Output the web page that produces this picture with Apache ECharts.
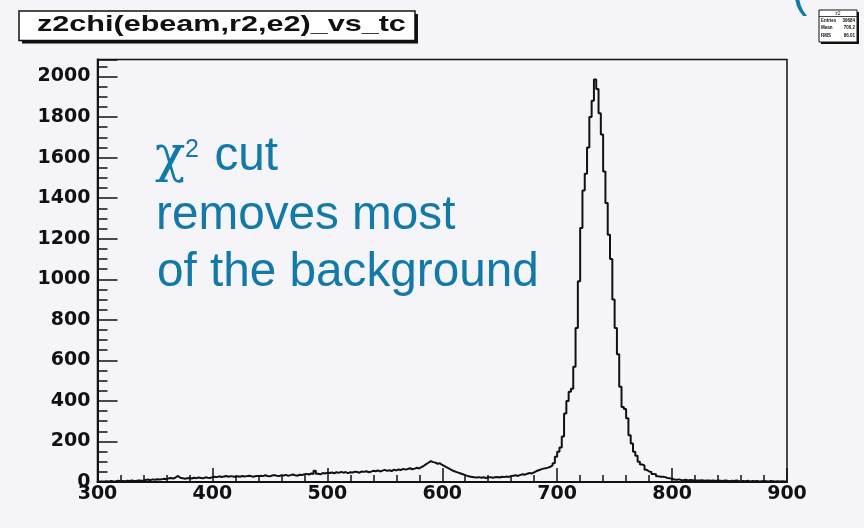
<!DOCTYPE html>
<html>
<head>
<meta charset="utf-8">
<script src="https://cdn.jsdelivr.net/npm/echarts@6/dist/echarts.min.js"></script>
<style>
  html, body { margin: 0; padding: 0; background: #f5f4f8; }
  #chart { width: 864px; height: 528px; }
</style>
</head>
<body>
<div id="chart"></div>
<script>
// Histogram binning: 300 bins of width 2 from 300 to 900
const binLow = 300;
const binWidth = 2;
const binHigh = 900;

// Bin contents, 10 bins (20 units) per row
const counts = [
  2, 3, 2, 4, 3, 5, 3, 4, 6, 4,                 // 300-320
  5, 4, 6, 5, 7, 5, 6, 8, 6, 7,                 // 320-340
  10, 12, 9, 13, 11, 14, 12, 13, 16, 14,        // 340-360
  18, 20, 17, 22, 30, 21, 19, 16, 18, 20,       // 360-380
  17, 21, 19, 22, 20, 18, 23, 21, 20, 24,       // 380-400
  26, 24, 28, 25, 27, 30, 26, 29, 27, 25,       // 400-420
  28, 26, 30, 27, 29, 31, 28, 26, 30, 29,       // 420-440
  31, 29, 33, 30, 28, 32, 34, 31, 29, 33,       // 440-460
  32, 35, 30, 34, 37, 33, 31, 36, 34, 38,       // 460-480
  40, 37, 42, 39, 55, 41, 38, 44, 42, 46,       // 480-500
  44, 47, 43, 48, 45, 50, 46, 49, 44, 48,       // 500-520
  47, 51, 49, 46, 52, 50, 53, 48, 51, 55,       // 520-540
  53, 57, 52, 56, 60, 55, 58, 54, 61, 57,       // 540-560
  62, 59, 65, 61, 64, 68, 63, 66, 70, 67,       // 560-580
  74, 80, 88, 95, 103, 98, 96, 90, 92, 84,      // 580-600
  78, 72, 66, 60, 54, 50, 46, 42, 38, 34,       // 600-620
  30, 27, 25, 23, 22, 24, 21, 23, 20, 22,       // 620-640
  24, 21, 23, 25, 22, 26, 24, 27, 25, 29,       // 640-660
  31, 33, 30, 35, 38, 36, 41, 44, 42, 48,       // 660-680
  54, 58, 62, 66, 68, 71, 75, 82, 92, 125,      // 680-700
  149, 170, 225, 338, 400, 445, 460, 568, 760, 990,          // 700-720
  1253, 1438, 1520, 1650, 1800, 1880, 1985, 1939, 1819, 1714, // 720-740
  1532, 1376, 1220, 1100, 900, 760, 630, 470, 370, 360,      // 740-760
  314, 231, 190, 149, 130, 100, 86, 82, 60, 52, // 760-780
  50, 40, 38, 28, 26, 26, 24, 20, 18, 16,       // 780-800
  12, 11, 13, 10, 9, 11, 8, 10, 9, 7,           // 800-820
  8, 7, 9, 6, 8, 7, 6, 8, 5, 7,                 // 820-840
  6, 5, 7, 6, 4, 6, 5, 7, 5, 4,                 // 840-860
  5, 4, 6, 3, 5, 4, 5, 3, 4, 5,                 // 860-880
  4, 3, 5, 4, 3, 4, 2, 4, 3, 3                  // 880-900
];

// Axis tick values
const xTickValues = [300, 400, 500, 600, 700, 800, 900];
const yTickValues = [0, 200, 400, 600, 800, 1000, 1200, 1400, 1600, 1800, 2000];

const histTitle = 'z2chi(ebeam,r2,e2)_vs_tc';
const noteLines = ['removes most', 'of the background'];

// Outline of the histogram: each bin's left edge carries its content,
// plus a closing point at the upper edge.
const outline = counts.map((c, i) => [binLow + i * binWidth, c]);
outline.push([binHigh, counts[counts.length - 1]]);

// Statistics for the stats box
let entries = 0, sx = 0, sxx = 0;
counts.forEach((c, i) => {
  const xc = binLow + (i + 0.5) * binWidth;
  entries += c; sx += c * xc; sxx += c * xc * xc;
});
const mean = sx / entries;
const rms = Math.sqrt(sxx / entries - mean * mean);
const peak = Math.max(...counts);
const yMax = Math.round(peak * 1.05);

const ink = '#111111';
const blue = '#1279a8';
const labelFont = { color: ink, fontFamily: 'DejaVu Sans', fontWeight: 'bold', fontSize: 19 };
const noteFont = '47.7px "Liberation Sans"';

const chart = echarts.init(document.getElementById('chart'), null, { renderer: 'canvas' });

chart.setOption({
  backgroundColor: '#f5f4f8',
  animation: false,
  grid: {
    left: 97.5, right: 77, top: 59.5, bottom: 46,
    show: true, borderColor: ink, borderWidth: 1.5, backgroundColor: 'transparent'
  },
  xAxis: {
    type: 'value',
    min: xTickValues[0],
    max: xTickValues[xTickValues.length - 1],
    interval: xTickValues[1] - xTickValues[0],
    axisLine: { show: true, onZero: false, lineStyle: { color: ink, width: 2 } },
    axisTick: { show: true, inside: true, length: 14, lineStyle: { color: ink, width: 1.5 } },
    minorTick: { show: true, splitNumber: 5, length: 7, lineStyle: { color: ink, width: 1.5 } },
    splitLine: { show: false },
    axisLabel: Object.assign({ margin: 3 }, labelFont)
  },
  yAxis: {
    type: 'value',
    min: yTickValues[0],
    max: yMax,
    interval: yTickValues[1] - yTickValues[0],
    axisLine: { show: true, lineStyle: { color: ink, width: 2 } },
    axisTick: { show: true, inside: true, length: 20, lineStyle: { color: ink, width: 1.5 } },
    minorTick: { show: true, splitNumber: 4, length: 10, lineStyle: { color: ink, width: 1.5 } },
    splitLine: { show: false },
    axisLabel: Object.assign({
      margin: 7,
      showMaxLabel: false,
      formatter: v => (yTickValues.indexOf(v) >= 0 ? String(v) : '')
    }, labelFont)
  },
  series: [{
    type: 'line',
    step: 'end',
    data: outline,
    symbol: 'none',
    lineStyle: { color: ink, width: 2 },
    clip: true,
    silent: true
  }],
  graphic: [
    // Title box with drop shadow
    { type: 'rect', shape: { x: 22, y: 14, width: 396, height: 29.5 }, style: { fill: ink } },
    { type: 'rect', shape: { x: 19, y: 11, width: 396, height: 29.5 },
      style: { fill: '#ffffff', stroke: ink, lineWidth: 1.5 } },
    { type: 'text', x: 37, y: 24.5, scaleX: 1.39,
      style: { text: histTitle, font: 'bold 22px "Liberation Sans"', fill: ink, verticalAlign: 'middle' } },

    // Stats box (top right)
    { type: 'rect', shape: { x: 821, y: 12, width: 38, height: 32 }, style: { fill: ink } },
    { type: 'rect', shape: { x: 819, y: 10, width: 38, height: 32 },
      style: { fill: '#ffffff', stroke: ink, lineWidth: 1 } },
    { type: 'line', shape: { x1: 819, y1: 16.5, x2: 857, y2: 16.5 }, style: { stroke: ink, lineWidth: 0.8 } },
    { type: 'text', x: 838, y: 13.3, style: { text: 'z2', font: '5px "Liberation Sans"', fill: ink, align: 'center', verticalAlign: 'middle' } },
    { type: 'text', x: 821, y: 20.5, style: { text: 'Entries', font: 'bold 4.5px "Liberation Sans"', fill: ink, verticalAlign: 'middle' } },
    { type: 'text', x: 855, y: 20.5, style: { text: String(entries), font: 'bold 4.5px "Liberation Sans"', fill: ink, align: 'right', verticalAlign: 'middle' } },
    { type: 'text', x: 821, y: 28, style: { text: 'Mean', font: 'bold 4.5px "Liberation Sans"', fill: ink, verticalAlign: 'middle' } },
    { type: 'text', x: 855, y: 28, style: { text: mean.toFixed(1), font: 'bold 4.5px "Liberation Sans"', fill: ink, align: 'right', verticalAlign: 'middle' } },
    { type: 'text', x: 821, y: 35.5, style: { text: 'RMS', font: 'bold 4.5px "Liberation Sans"', fill: ink, verticalAlign: 'middle' } },
    { type: 'text', x: 855, y: 35.5, style: { text: rms.toFixed(2), font: 'bold 4.5px "Liberation Sans"', fill: ink, align: 'right', verticalAlign: 'middle' } },

    // Part of a large blue parenthesis cut by the top edge
    { type: 'text', x: 792, y: -7, style: { text: '(', font: '46px "Liberation Sans"', fill: blue, verticalAlign: 'middle' } },

    // Annotation
    { type: 'text', x: 155, y: 158, style: { text: 'χ', font: '50px "DejaVu Serif"', fill: blue, verticalAlign: 'middle' } },
    { type: 'text', x: 185, y: 150, style: { text: '2', font: '25px "Liberation Sans"', fill: blue, verticalAlign: 'middle' } },
    { type: 'text', x: 214.5, y: 157, style: { text: 'cut', font: noteFont, fill: blue, verticalAlign: 'middle' } },
    { type: 'text', x: 156, y: 215.4, style: { text: noteLines[0], font: noteFont, fill: blue, verticalAlign: 'middle' } },
    { type: 'text', x: 157, y: 273, style: { text: noteLines[1], font: noteFont, fill: blue, verticalAlign: 'middle' } }
  ]
});
</script>
</body>
</html>
